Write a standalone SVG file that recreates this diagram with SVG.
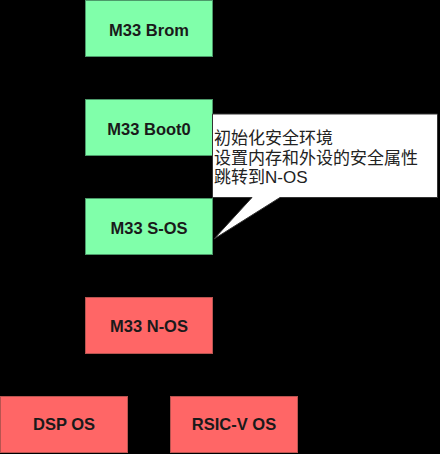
<svg xmlns="http://www.w3.org/2000/svg" width="440" height="454" viewBox="0 0 440 454">
<defs>
<style>
.g{fill:#80ffaa;stroke:#4c9a6a;stroke-width:1}
.r{fill:#ff6666;stroke:#b85450;stroke-width:1}
.t{font-family:"Liberation Sans",Arial,sans-serif;font-size:16.5px;font-weight:bold;fill:#1a1a1a;text-anchor:middle}
.c{font-family:"Liberation Sans","Noto Sans CJK SC",sans-serif;font-size:17px;fill:#222}
.e{fill:none;stroke:#000;stroke-width:1}
</style>
<marker id="a" viewBox="0 0 10 10" refX="9" refY="5" markerWidth="8" markerHeight="8" orient="auto"><path d="M0,1 L10,5 L0,9 Z" fill="#000"/></marker>
</defs>
<rect x="0" y="0" width="440" height="454" fill="#000"/>
<g id="connectors">
<path class="e" d="M149,56.5 V98.5" marker-end="url(#a)"/>
<path class="e" d="M149,155.5 V197.5" marker-end="url(#a)"/>
<path class="e" d="M149,254.5 V296.5" marker-end="url(#a)"/>
<path class="e" d="M149,353.5 V375 H64 V395.5" marker-end="url(#a)"/>
<path class="e" d="M149,353.5 V375 H234 V395.5" marker-end="url(#a)"/>
</g>
<g id="brom"><rect class="g" x="85.5" y="0.5" width="127" height="56"/><text class="t" x="149" y="35.5">M33 Brom</text></g>
<g id="boot0"><rect class="g" x="85.5" y="99.5" width="127" height="56"/><text class="t" x="149" y="134.8">M33 Boot0</text></g>
<g id="sos"><rect class="g" x="85.5" y="198.5" width="127" height="56"/><text class="t" x="149" y="233.8">M33 S-OS</text></g>
<g id="nos"><rect class="r" x="85.5" y="297.5" width="127" height="56"/><text class="t" x="149" y="332.3">M33 N-OS</text></g>
<g id="dsp"><rect class="r" x="0.5" y="396.5" width="127" height="56"/><text class="t" x="64" y="430">DSP OS</text></g>
<g id="rsicv"><rect class="r" x="170.5" y="396.5" width="127" height="56"/><text class="t" x="234" y="430">RSIC-V OS</text></g>
<g id="callout">
<path d="M212.5,114 H437.5 V197.5 H280 L214,239 L252,197.5 H212.5 Z" fill="#fff" stroke="#333" stroke-width="1"/>
<text class="c" x="214" y="144">初始化安全环境</text>
<text class="c" x="214" y="163.5">设置内存和外设的安全属性</text>
<text class="c" x="214" y="183">跳转到N-OS</text>
</g>
</svg>
